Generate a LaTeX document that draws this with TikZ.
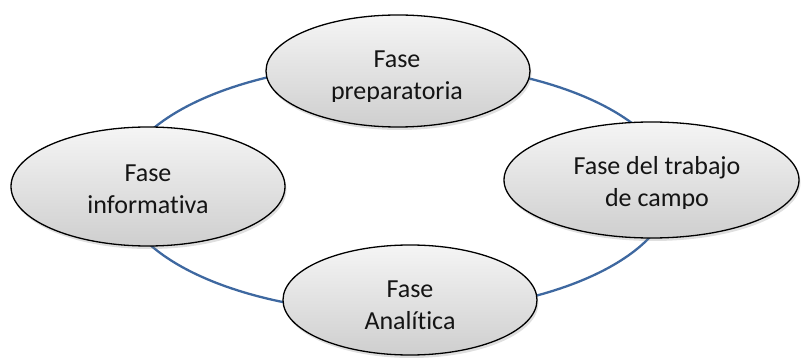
\documentclass[tikz,border=0pt]{standalone}
\usepackage{fontspec}
\setmainfont{Carlito}[RawFeature={-liga;-dlig;-clig}]
\usetikzlibrary{shapes.geometric,shadows}
\definecolor{cycleblue}{RGB}{62,104,160}
\definecolor{txt}{RGB}{20,20,20}
\tikzset{
  phase/.style={ellipse, draw=black, line width=1.3pt, inner sep=0pt,
    top color=gray!8, bottom color=gray!38,
    drop shadow={opacity=0.25, shadow xshift=1.5pt, shadow yshift=-3pt}},
  label/.style={anchor=base, font=\fontsize{26}{32}\selectfont, text=txt, inner sep=0pt},
  cycleline/.style={ellipse, draw=cycleblue, line width=2.3pt, inner sep=0pt}
}
\begin{document}
\begin{tikzpicture}[x=1pt,y=-1pt]
\useasboundingbox (0,0) rectangle (801,358);
% cycle behind
\node[cycleline, minimum width=552pt, minimum height=250pt] (cycle) at (396,188) {};
% phases
\node[phase, minimum width=264pt, minimum height=112pt] (prep) at (398,71) {};
\node[phase, minimum width=274pt, minimum height=119pt] (info) at (148,186.5) {};
\node[phase, minimum width=295pt, minimum height=116pt] (campo) at (651.5,180) {};
\node[phase, minimum width=254pt, minimum height=110pt] (anal) at (410,300) {};
% texts
\begin{scope}
  \clip (260,0) rectangle (540,101.5);
  \node[label] (prep1) at (397,68) {Fase};
  \node[label] (prep2) at (397,100) {preparatoria};
\end{scope}
\node[label] (info1) at (148,182) {Fase};
\node[label] (info2) at (148,214) {informativa};
\begin{scope}
  \clip (500,100) rectangle (801,209);
  \node[label] (campo1) at (657,175) {Fase del trabajo};
  \node[label] (campo2) at (657,207) {de campo};
\end{scope}
\node[label] (anal1) at (410,298) {Fase};
\node[label] (anal2) at (410,330) {Analítica};
\end{tikzpicture}
\end{document}
